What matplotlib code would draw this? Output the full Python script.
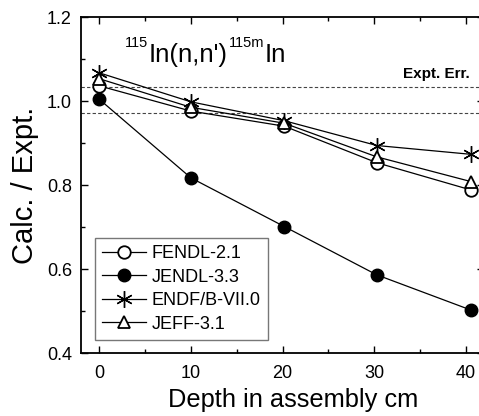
import matplotlib
matplotlib.use("Agg")
import matplotlib.pyplot as plt
from matplotlib.ticker import MultipleLocator, FormatStrFormatter
from matplotlib.transforms import offset_copy

plt.rcParams['font.family'] = ['Liberation Sans', 'DejaVu Sans']

depth = [0, 10, 20.2, 30.3, 40.6]
fendl = [1.036, 0.976, 0.940, 0.853, 0.788]
jendl = [1.004, 0.817, 0.701, 0.586, 0.502]
endf = [1.067, 0.998, 0.953, 0.894, 0.873]
jeff = [1.053, 0.985, 0.947, 0.867, 0.808]
labels = ['FENDL-2.1', 'JENDL-3.3', 'ENDF/B-VII.0', 'JEFF-3.1']
err_hi = 1.033
err_lo = 0.971

fig = plt.figure(figsize=(4.79, 4.16), dpi=100)
ax = fig.add_axes([81/479, 63/416, 403/479, 336/416])

ax.axhline(err_hi, color='#444444', lw=0.8, ls=(0, (3, 2)))
ax.axhline(err_lo, color='#444444', lw=0.8, ls=(0, (3, 2)))

kw = dict(color='black', lw=0.9, ms=9)
ax.plot(depth, fendl, marker='o', mfc='white', mec='black', mew=1.3, label=labels[0], **kw)
ax.plot(depth, jendl, marker='o', mfc='black', mec='black', label=labels[1], **kw)
ax.plot(depth, endf, marker=(6, 2, 0), mec='black', mew=1.0, label=labels[2], color='black', lw=0.9, ms=12)
ax.plot(depth, jeff, marker='^', mfc='white', mec='black', mew=1.3, label=labels[3], **kw)

ax.set_xlim(-2, 42)
ax.set_ylim(0.4, 1.2)
ax.xaxis.set_major_locator(MultipleLocator(10))
ax.xaxis.set_minor_locator(MultipleLocator(5))
ax.yaxis.set_major_locator(MultipleLocator(0.2))
ax.yaxis.set_minor_locator(MultipleLocator(0.1))
ax.yaxis.set_major_formatter(FormatStrFormatter('%.1f'))
ax.tick_params(which='both', direction='in', top=True, right=True, width=1.0, labelsize=13)
ax.tick_params(which='major', length=5)
ax.tick_params(which='minor', length=3)
ax.tick_params(axis='y', pad=6.5)
ax.tick_params(axis='x', pad=8.5)
for s in ax.spines.values():
    s.set_linewidth(1.3)

ax.set_xlabel('Depth in assembly cm', fontsize=18.3)
ax.xaxis.set_label_coords(0.526, -0.105)
ax.set_ylabel('Calc. / Expt.', fontsize=21, labelpad=6)

# title built from pieces: superscript mass numbers
fig.canvas.draw()
renderer = fig.canvas.get_renderer()
pieces = [('115', 10.5, 11), ('In(n,n\')', 18.5, 0), ('115m', 10.5, 11), ('In', 18.5, 0)]
x0, y0 = 2.8, 1.093
dx = 0.0
for txt, fs, rise in pieces:
    tr = offset_copy(ax.transData, fig=fig, x=dx, y=rise, units='points')
    t = ax.text(x0, y0, txt, fontsize=fs, ha='left', va='baseline', transform=tr)
    bb = t.get_window_extent(renderer)
    dx += bb.width * 72.0 / fig.dpi + 0.5

ax.text(40.4, 1.055, 'Expt. Err.', fontsize=11, fontweight='bold', ha='right', va='baseline')

leg = ax.legend(loc='lower left', bbox_to_anchor=(0.035, 0.039), borderaxespad=0,
                fontsize=13, frameon=True, fancybox=False, edgecolor='#555555',
                handlelength=2.4, handletextpad=0.35, labelspacing=0.36, borderpad=0.4)
leg.get_frame().set_linewidth(1.0)

fig.savefig('out.png', dpi=100)
